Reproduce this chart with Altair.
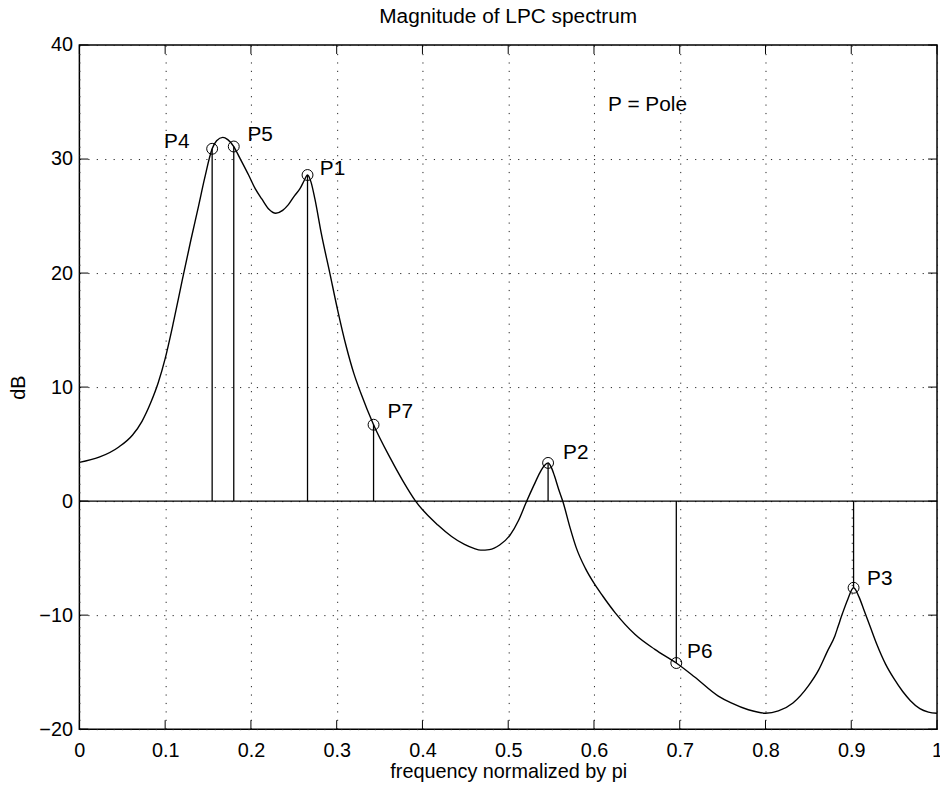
import altair as alt
import pandas as pd

# LPC magnitude spectrum
freq = [0.000, 0.023, 0.046, 0.062, 0.073, 0.083, 0.092, 0.100, 0.110, 0.120,
        0.130, 0.139, 0.146, 0.1548, 0.160, 0.1672, 0.173, 0.180, 0.187, 0.1973,
        0.205, 0.2127, 0.221, 0.229, 0.237, 0.2437, 0.251, 0.2572, 0.262, 0.266,
        0.270, 0.2746, 0.282, 0.292, 0.301, 0.311, 0.320, 0.328, 0.343, 0.363,
        0.377, 0.392, 0.418, 0.434, 0.449, 0.460, 0.468, 0.478, 0.490, 0.502,
        0.512, 0.521, 0.530, 0.537, 0.542, 0.5465, 0.550, 0.554, 0.559, 0.564,
        0.572, 0.5794, 0.590, 0.600, 0.610, 0.6248, 0.648, 0.671, 0.696, 0.717,
        0.745, 0.760, 0.780, 0.800, 0.815, 0.832, 0.850, 0.862, 0.872, 0.881,
        0.8846, 0.890, 0.896, 0.9027, 0.909, 0.915, 0.922, 0.930, 0.940, 0.950,
        0.960, 0.969, 0.980, 0.990, 1.000]
mag = [3.4, 3.85, 4.75, 5.8, 7.0, 8.6, 10.4, 12.5, 15.8, 19.4,
       22.9, 25.9, 28.3, 30.9, 31.6, 31.9, 31.7, 31.1, 30.1, 28.6,
       27.4, 26.5, 25.6, 25.25, 25.5, 26.0, 26.8, 27.4, 28.1, 28.6,
       28.0, 26.5, 23.5, 20.0, 16.8, 13.6, 11.2, 9.5, 6.7, 3.7,
       1.8, 0.0, -2.1, -3.1, -3.8, -4.15, -4.3, -4.25, -3.85, -3.0,
       -1.7, -0.1, 1.4, 2.5, 3.1, 3.35, 3.0, 2.2, 1.0, -0.1,
       -2.3, -4.1, -5.9, -7.2, -8.3, -9.8, -11.7, -13.0, -14.2, -15.4,
       -17.1, -17.7, -18.3, -18.6, -18.4, -17.7, -16.2, -14.8, -13.2, -11.8,
       -11.0, -9.8, -8.6, -7.6, -8.4, -9.6, -11.0, -12.6, -14.3, -15.6,
       -16.7, -17.5, -18.2, -18.5, -18.6]

# Poles
pole_names = ["P4", "P5", "P1", "P7", "P2", "P6", "P3"]
pole_freq = [0.1548, 0.180, 0.266, 0.343, 0.5465, 0.696, 0.9027]
pole_mag = [30.9, 31.1, 28.6, 6.7, 3.35, -14.2, -7.6]
label_freq = [0.0988, 0.196, 0.2804, 0.3593, 0.564, 0.7085, 0.9184]
label_mag = [31.5, 32.1, 29.1, 7.8, 4.2, -13.2, -6.8]

note_text = ["P = Pole"]
note_freq = [0.6165]
note_mag = [34.7]

title_text = ["Magnitude of LPC spectrum"]

x_ticks = [0, 0.1, 0.2, 0.3, 0.4, 0.5, 0.6, 0.7, 0.8, 0.9, 1.0]
y_ticks = [-20, -10, 0, 10, 20, 30, 40]

W, H = 865, 690
FONT = "Liberation Sans"
TICK = 9

xs = alt.Scale(domain=[0, 1], nice=False, zero=False)
ys = alt.Scale(domain=[-20, 40], nice=False, zero=False)

x_axis = alt.Axis(values=x_ticks, format=".1~f", title="frequency normalized by pi",
                  grid=True, ticks=False, tickSize=0, domain=False,
                  labelPadding=12, labelFlush=False, labelOverlap=False,
                  titleBaseline="alphabetic", titleY=49, titleX=W / 2, titleAlign="center")
y_axis = alt.Axis(values=y_ticks, format="d", title="dB",
                  grid=True, ticks=False, tickSize=0, domain=False,
                  labelPadding=7, labelFlush=False, labelOverlap=False,
                  titleX=-61, titleY=H / 2, titleAngle=-90, titleAlign="center",
                  titleBaseline="middle")

X = lambda: alt.X("f:Q", scale=xs, axis=x_axis)
Y = lambda: alt.Y("db:Q", scale=ys, axis=y_axis)

curve_df = pd.DataFrame({"f": freq, "db": mag})
pole_df = pd.DataFrame({"f": pole_freq, "db": pole_mag, "zero": [0] * len(pole_freq)})
label_df = pd.DataFrame({"f": label_freq, "db": label_mag, "name": pole_names})
note_df = pd.DataFrame({"f": note_freq, "db": note_mag, "name": note_text})
title_df = pd.DataFrame({"name": title_text})
zero_df = pd.DataFrame({"db": [0]})
xt_df = pd.DataFrame({"f": x_ticks})
yt_df = pd.DataFrame({"db": y_ticks})

zero_line = alt.Chart(zero_df).mark_rule(color="black", strokeWidth=1.3).encode(y=Y())
curve = alt.Chart(curve_df).mark_line(color="black", strokeWidth=1.4, interpolate="monotone").encode(
    x=X(), y=Y(), order=alt.Order("f:Q"))
stems = alt.Chart(pole_df).mark_rule(color="black", strokeWidth=1.3).encode(
    x=X(), y=Y(), y2="zero:Q")
circles = alt.Chart(pole_df).mark_point(shape="circle", filled=False, size=121,
                                        color="black", strokeWidth=1, opacity=1).encode(x=X(), y=Y())
labels = alt.Chart(label_df).mark_text(align="left", baseline="middle", font=FONT,
                                       fontSize=21, color="black").encode(x=X(), y=Y(), text="name:N")
note = alt.Chart(note_df).mark_text(align="left", baseline="middle", font=FONT,
                                    fontSize=21, color="black").encode(x=X(), y=Y(), text="name:N")
title = alt.Chart(title_df).mark_text(align="center", baseline="alphabetic", font=FONT,
                                      fontSize=21, color="black").encode(
    x=alt.value(W / 2), y=alt.value(-22), text="name:N")

tb = alt.Chart(xt_df).mark_rule(color="black", strokeWidth=1).encode(
    x=X(), y=alt.value(H), y2=alt.value(H - TICK))
tt = alt.Chart(xt_df).mark_rule(color="black", strokeWidth=1).encode(
    x=X(), y=alt.value(0), y2=alt.value(TICK))
tl = alt.Chart(yt_df).mark_rule(color="black", strokeWidth=1).encode(
    y=Y(), x=alt.value(0), x2=alt.value(TICK))
tr = alt.Chart(yt_df).mark_rule(color="black", strokeWidth=1).encode(
    y=Y(), x=alt.value(W), x2=alt.value(W - TICK))

chart = alt.layer(zero_line, curve, stems, circles, labels, note, title, tb, tt, tl, tr).properties(
    width=W, height=H,
    padding={"left": 72, "top": 34, "right": 3, "bottom": 56},
    autosize=alt.AutoSizeParams(type="none"),
    background="white",
).configure_view(stroke="black", strokeWidth=1.5).configure_axis(
    labelFont=FONT, labelFontSize=20, labelColor="black",
    titleFont=FONT, titleFontSize=20, titleFontWeight="normal", titleColor="black",
    gridColor="#222", gridDash=[1.2, 7.3], gridWidth=1, gridOpacity=1,
)

chart.save("out.html", embed_options={"renderer": "svg", "actions": False})
